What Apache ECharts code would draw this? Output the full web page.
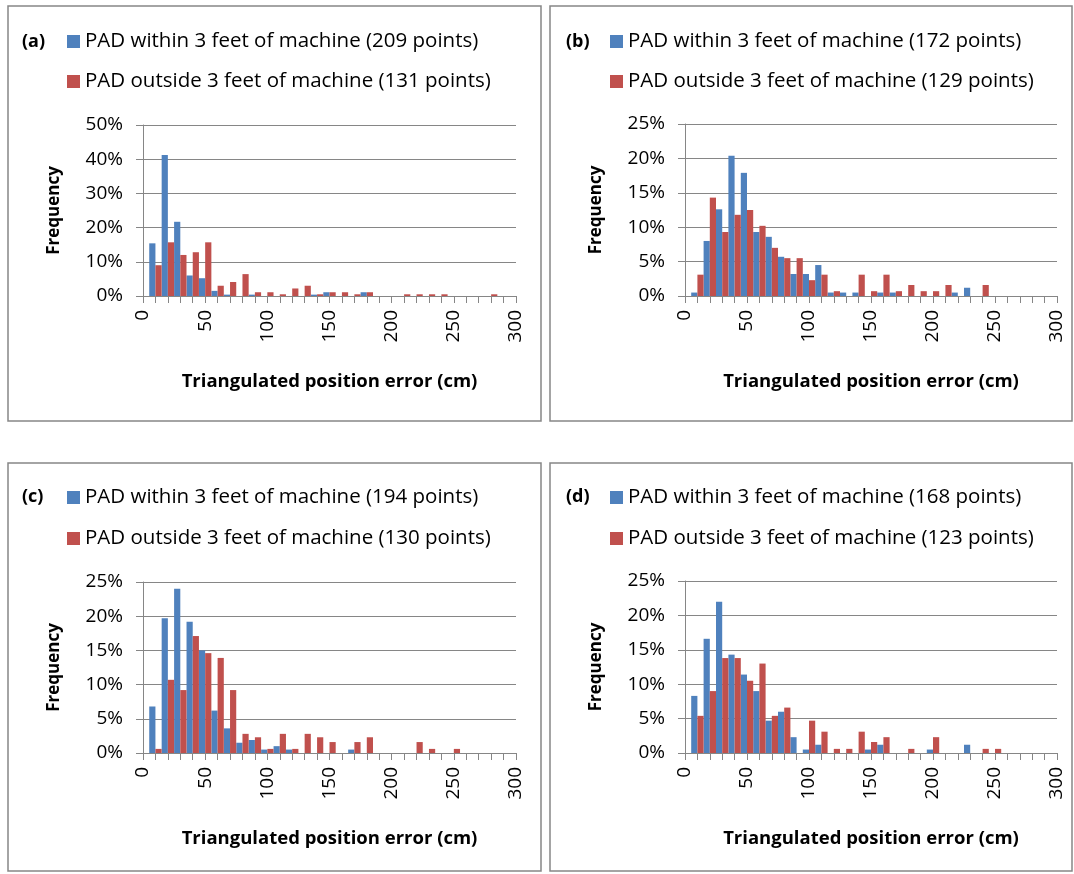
<!DOCTYPE html>
<html><head><meta charset="utf-8">
<script src="https://cdn.jsdelivr.net/npm/echarts@6/dist/echarts.min.js"></script>
<style>html,body{margin:0;padding:0;background:#fff}#c{width:1074px;height:874px}</style>
</head><body><div id="c"></div><script>
// bin centres (cm)
const bins = [10,20,30,40,50,60,70,80,90,100,110,120,130,140,150,160,170,180,190,200,210,220,230,240,250,260,270,280,290,300];
// frequencies (%)
const aWithin  = [15.4,41.2,21.7,6.0,5.2,1.5,0.4,0,0.4,0,0,0,0,0.4,1.1,0,0,1.1,0,0,0,0,0,0,0,0,0,0,0,0];
const aOutside = [9.0,15.7,12.0,12.8,15.7,3.0,4.1,6.4,1.1,1.1,0.5,2.2,3.0,0.5,1.1,1.1,0.5,1.1,0,0,0.5,0.5,0.5,0.5,0,0,0,0.5,0,0];
const bWithin  = [0.5,8.0,12.6,20.4,17.9,9.3,8.6,5.7,3.2,3.2,4.5,0.5,0.5,0.5,0,0.5,0.5,0,0,0,0,0.5,1.2,0,0,0,0,0,0,0];
const bOutside = [3.1,14.3,9.3,11.8,12.5,10.2,7.0,5.5,5.5,2.3,3.1,0.7,0,3.1,0.7,3.1,0.7,1.6,0.7,0.7,1.6,0,0,1.6,0,0,0,0,0,0];
const cWithin  = [6.8,19.7,24.0,19.2,15.0,6.2,3.6,1.5,1.9,0.5,1.0,0.5,0,0,0,0,0.5,0,0,0,0,0,0,0,0,0,0,0,0,0];
const cOutside = [0.6,10.7,9.2,17.1,14.6,13.9,9.2,2.8,2.3,0.6,2.8,0.6,2.8,2.3,1.6,0,1.6,2.3,0,0,0,1.6,0.6,0,0.6,0,0,0,0,0];
const dWithin  = [8.3,16.6,22.0,14.3,11.4,9.0,4.7,6.0,2.3,0.5,1.2,0,0,0,0.5,1.2,0,0,0,0.5,0,0,1.2,0,0,0,0,0,0,0];
const dOutside = [5.4,9.0,13.8,13.8,10.5,13.0,5.4,6.6,0,4.7,3.1,0.6,0.6,3.1,1.6,2.3,0,0.6,0,2.3,0,0,0,0.6,0.6,0,0,0,0,0];
// legend texts
const panelTags = ['(a)','(b)','(c)','(d)'];
const withinNames  = ['PAD within 3 feet of machine (209 points)','PAD within 3 feet of machine (172 points)','PAD within 3 feet of machine (194 points)','PAD within 3 feet of machine (168 points)'];
const outsideNames = ['PAD outside 3 feet of machine (131 points)','PAD outside 3 feet of machine (129 points)','PAD outside 3 feet of machine (130 points)','PAD outside 3 feet of machine (123 points)'];
const yMaxes = [50,25,25,25];
const yIntervals = [10,5,5,5];
const xTitle = 'Triangulated position error (cm)';
const yTitle = 'Frequency';

const within = [aWithin,bWithin,cWithin,dWithin];
const outside = [aOutside,bOutside,cOutside,dOutside];

const layout = [
  {grid:{left:143,top:125,width:373,height:171}, box:[8,6,533,415], tag:[22,42], leg:[67,31], gap:19},
  {grid:{left:685,top:124,width:372,height:172}, box:[550,6,522,415], tag:[566,42], leg:[610,31], gap:19},
  {grid:{left:143,top:582,width:373,height:171}, box:[8,463,533,408], tag:[22,497], leg:[67,487], gap:20},
  {grid:{left:685,top:581,width:372,height:172}, box:[550,463,522,408], tag:[566,497], leg:[610,487], gap:20}
];
const FONT = 'Open Sans';
const GRAY = '#868686';
const BLUE = '#4F81BD', RED = '#C0504D';

const option = {grid:[],xAxis:[],yAxis:[],series:[],legend:[],graphic:[],animation:false};
layout.forEach((L,i)=>{
  option.grid.push(Object.assign({containLabel:false},L.grid));
  option.xAxis.push({type:'value',gridIndex:i,min:0,max:300,interval:50,
    name:xTitle,nameLocation:'middle',nameGap:76,
    nameTextStyle:{fontFamily:FONT,fontWeight:'bold',fontSize:18.5,color:'#000'},
    axisLine:{show:true,lineStyle:{color:GRAY,width:1}},
    axisTick:{show:true,length:7,lineStyle:{color:GRAY}},
    minorTick:{show:true,splitNumber:5,length:7,lineStyle:{color:GRAY}},
    splitLine:{show:false},
    axisLabel:{rotate:90,margin:14,fontFamily:FONT,fontSize:19,color:'#000'}});
  option.yAxis.push({type:'value',gridIndex:i,min:0,max:yMaxes[i],interval:yIntervals[i],
    name:yTitle,nameLocation:'middle',nameGap:80,nameRotate:90,
    nameTextStyle:{fontFamily:FONT,fontWeight:'bold',fontSize:17,color:'#000'},
    axisLine:{show:true,lineStyle:{color:GRAY,width:1}},
    axisTick:{show:true,length:7,lineStyle:{color:GRAY}},
    splitLine:{show:true,lineStyle:{color:GRAY,width:1}},
    axisLabel:{margin:20,formatter:'{value}%',fontFamily:FONT,fontSize:19,color:'#000'}});
  option.series.push({type:'bar',name:withinNames[i],xAxisIndex:i,yAxisIndex:i,
    barWidth:6.2,barGap:'0%',itemStyle:{color:BLUE},
    data:bins.map((b,k)=>[b,within[i][k]])});
  option.series.push({type:'bar',name:outsideNames[i],xAxisIndex:i,yAxisIndex:i,
    barWidth:6.2,barGap:'0%',itemStyle:{color:RED},
    data:bins.map((b,k)=>[b,outside[i][k]])});
  option.legend.push({data:[withinNames[i],outsideNames[i]],orient:'vertical',
    left:L.leg[0],top:L.leg[1],itemWidth:13,itemHeight:13,itemGap:L.gap,icon:'rect',
    selectedMode:false,padding:0,
    textStyle:{fontFamily:FONT,fontSize:20.5,color:'#000',lineHeight:21}});
  option.graphic.push({type:'rect',silent:true,z:-1,
    shape:{x:L.box[0],y:L.box[1],width:L.box[2],height:L.box[3]},
    style:{fill:'none',stroke:GRAY,lineWidth:1.5}});
  option.graphic.push({type:'text',silent:true,x:L.tag[0],y:L.tag[1],
    style:{text:panelTags[i],fontFamily:FONT,fontWeight:'bold',fontSize:18,fill:'#000',verticalAlign:'middle'}});
});
const chart = echarts.init(document.getElementById('c'),null,{renderer:'canvas'});
chart.setOption(option);
</script></body></html>
